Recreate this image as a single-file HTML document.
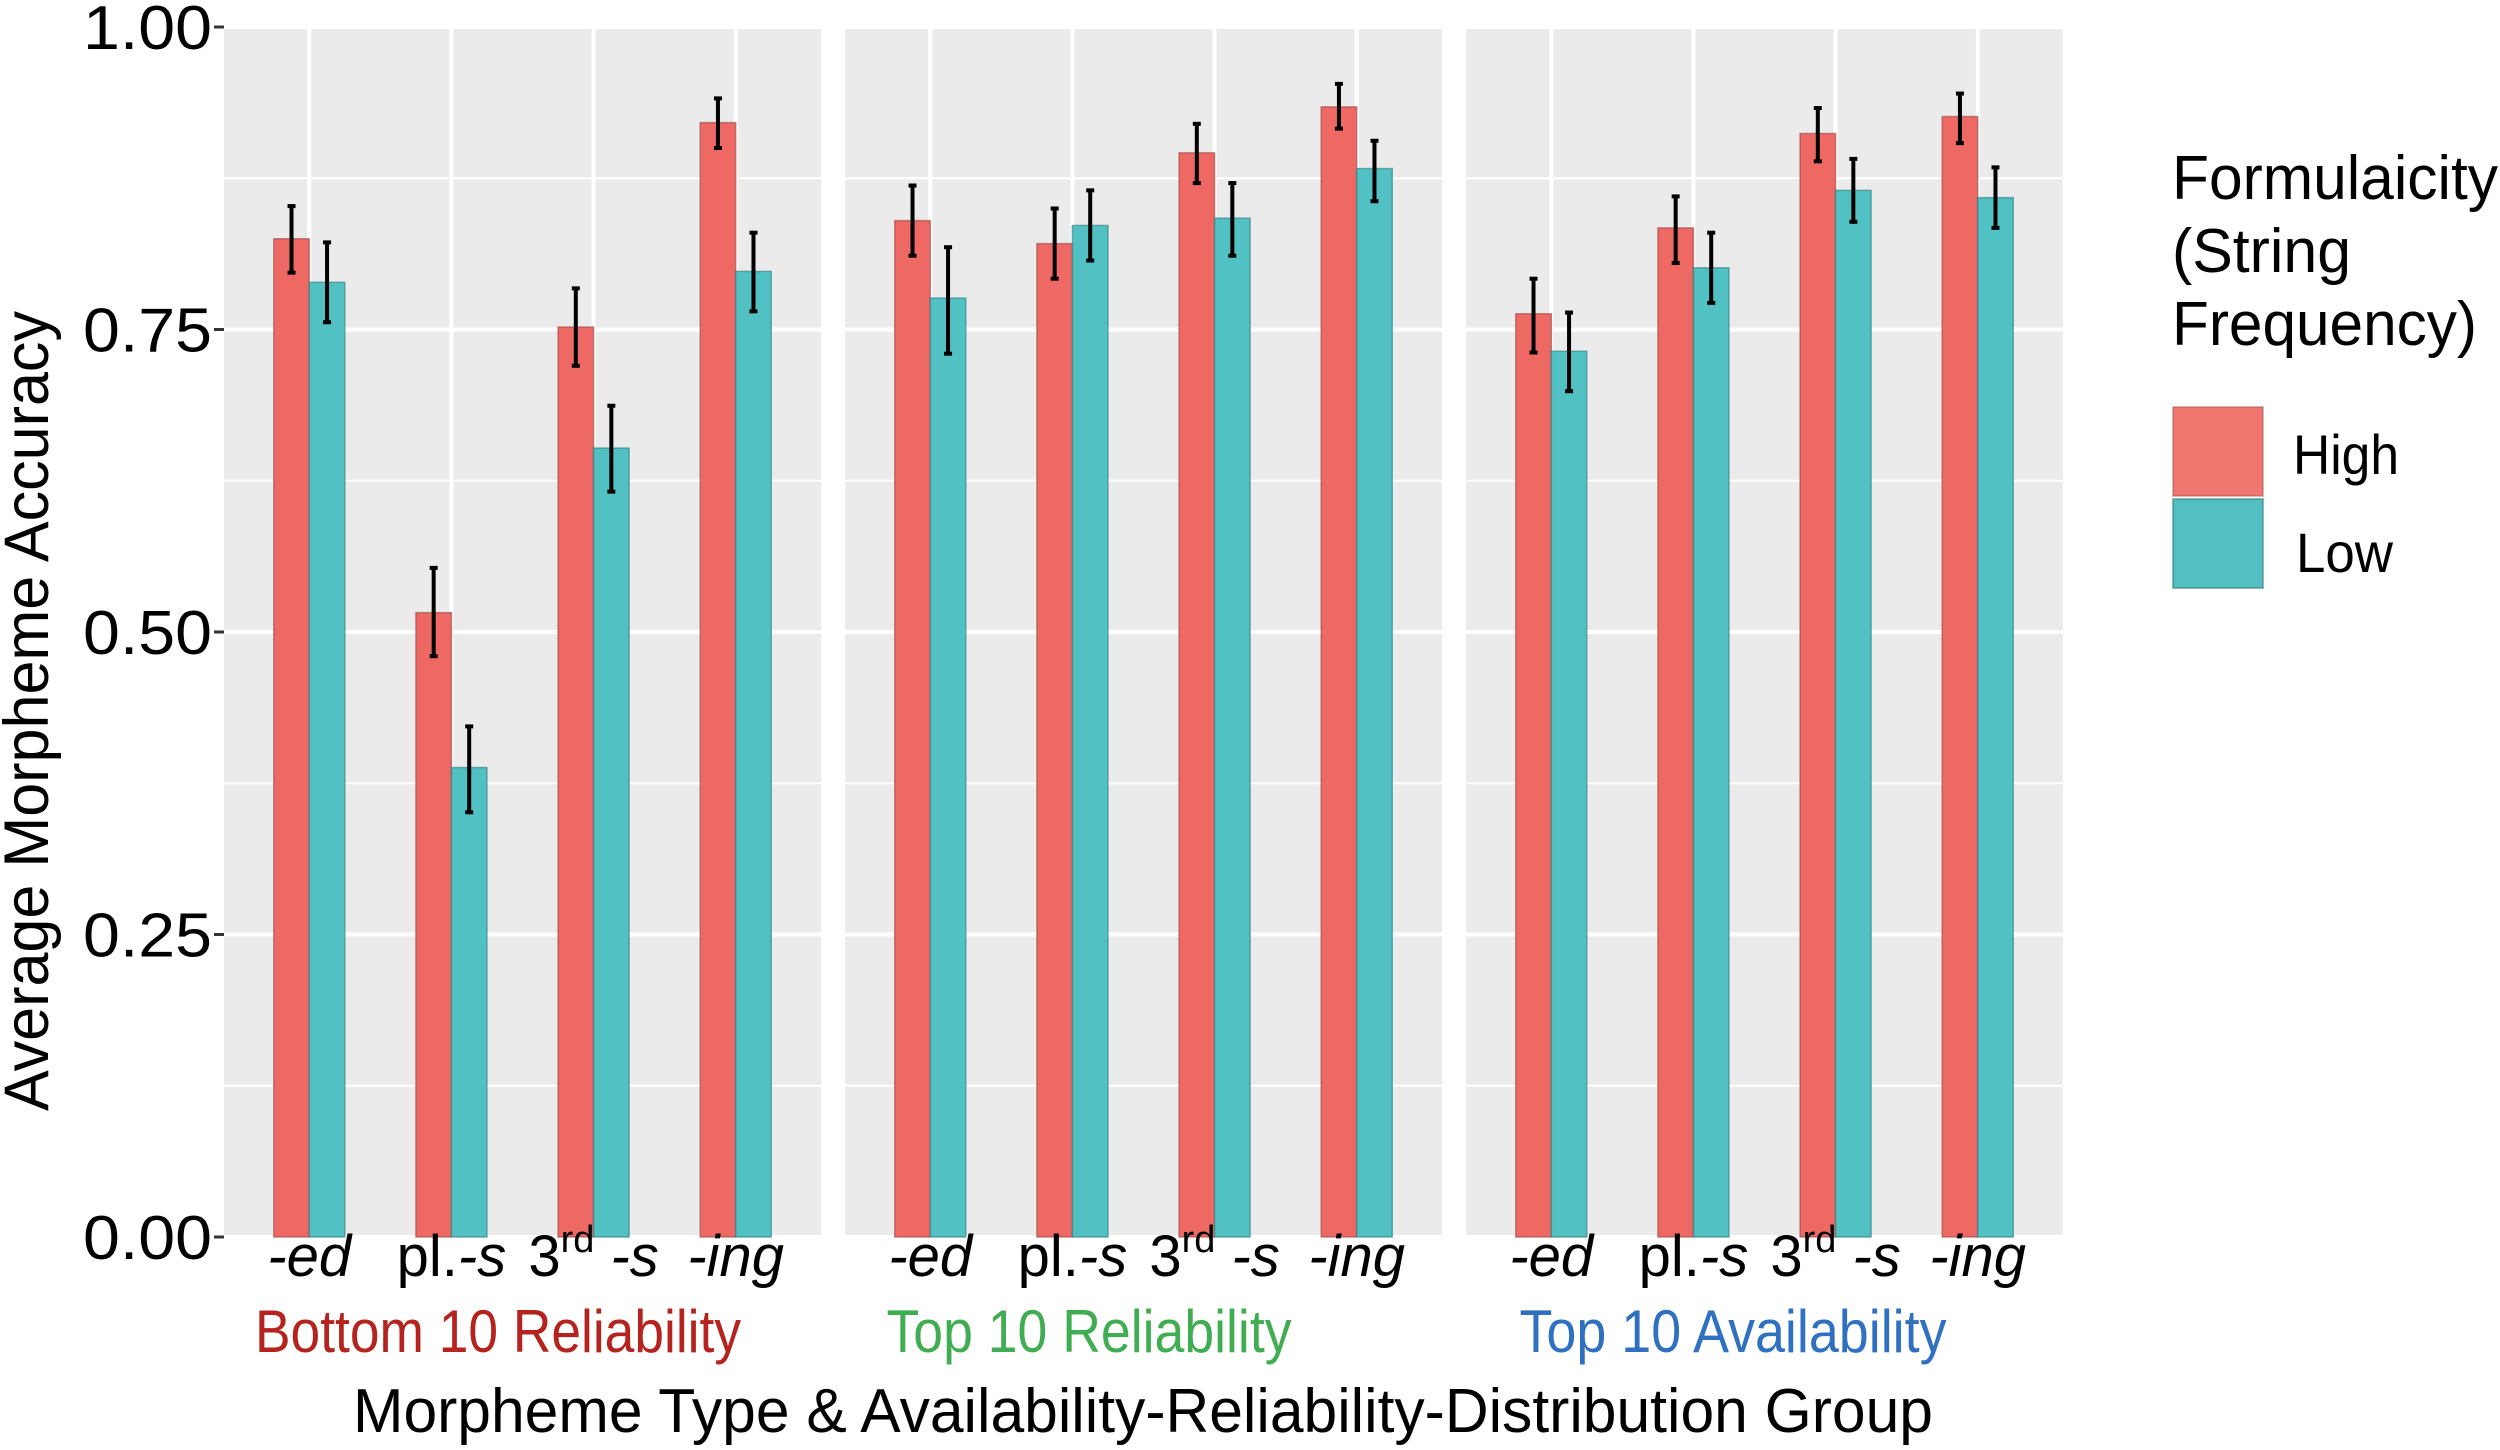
<!DOCTYPE html>
<html><head><meta charset="utf-8"><style>
html,body{margin:0;padding:0;background:#fff;}
svg{display:block;font-family:"Liberation Sans",sans-serif;}
</style></head><body>
<svg id="chart" width="2500" height="1450" viewBox="0 0 2500 1450" xmlns="http://www.w3.org/2000/svg">
<g id="panels"></g>
<g id="yaxis"></g>
<text transform="translate(48,711) rotate(-90)" text-anchor="middle" font-size="63" textLength="800" lengthAdjust="spacingAndGlyphs">Average Morpheme Accuracy</text>
<text x="1143" y="1432" text-anchor="middle" font-size="62" textLength="1580" lengthAdjust="spacingAndGlyphs">Morpheme Type &amp; Availability-Reliability-Distribution Group</text>
<g>
<text font-size="62">
<tspan x="2172" y="199" textLength="326" lengthAdjust="spacingAndGlyphs">Formulaicity</tspan><tspan x="2172" y="272" textLength="179" lengthAdjust="spacingAndGlyphs">(String</tspan><tspan x="2172" y="345" textLength="305" lengthAdjust="spacingAndGlyphs">Frequency)</tspan></text>
<rect x="2173" y="407" width="90" height="89" fill="#F07770" stroke="#a05050" stroke-opacity="0.4" stroke-width="2"/>
<rect x="2173" y="499" width="90" height="89" fill="#54BFC3" stroke="#307878" stroke-opacity="0.5" stroke-width="2"/>
<text x="2293" y="474" font-size="56" textLength="106" lengthAdjust="spacingAndGlyphs">High</text>
<text x="2296" y="572" font-size="56" textLength="97" lengthAdjust="spacingAndGlyphs">Low</text>
</g>
</svg>
<script>
const groups = ["Bottom 10 Reliability","Top 10 Reliability","Top 10 Availability"];
const groupColors = ["#B5231F","#41AD52","#2F70C0"];
const morphemes = ["-ed","pl.-s","3rd -s","-ing"];
const highVals = [[0.825,0.516,0.752,0.921],[0.840,0.821,0.896,0.934],[0.763,0.834,0.912,0.926]];
const highHi   = [[0.852,0.553,0.784,0.941],[0.869,0.850,0.920,0.953],[0.792,0.860,0.933,0.945]];
const highLo   = [[0.797,0.480,0.720,0.900],[0.811,0.792,0.871,0.916],[0.731,0.805,0.889,0.904]];
const lowVals  = [[0.789,0.388,0.652,0.798],[0.776,0.836,0.842,0.883],[0.732,0.801,0.865,0.859]];
const lowHi    = [[0.822,0.422,0.687,0.830],[0.818,0.865,0.871,0.906],[0.764,0.830,0.891,0.884]];
const lowLo    = [[0.756,0.351,0.616,0.765],[0.730,0.807,0.811,0.856],[0.699,0.772,0.839,0.834]];
const yTicks = [0,0.25,0.5,0.75,1];
const yTickLabels = ["0.00","0.25","0.50","0.75","1.00"];
const yMinor = [0.125,0.375,0.625,0.875];

const NS="http://www.w3.org/2000/svg";
const panelX=[224,845,1466], panelW=597, yTop=27, yBot=1237;
const groupLabelX=[498,1089,1733], groupLabelLen=[486,405,427];
const y=v=>yBot-v*(yBot-yTop);
const unit=panelW/4.2;
const xc=(p,i)=>panelX[p]+unit*(0.6+i);
function mk(tag,attrs,parent){const e=document.createElementNS(NS,tag);for(const k in attrs)e.setAttribute(k,attrs[k]);parent.appendChild(e);return e;}
const P=document.getElementById('panels');
groups.forEach((g,p)=>{
  const pg=mk('g',{},P);
  
  
  const bg=mk('rect',{x:panelX[p],y:yTop,width:panelW,height:yBot-yTop,fill:'#EBEBEB'},pg);
  
  
  yMinor.forEach(v=>{const l=mk('line',{x1:panelX[p],x2:panelX[p]+panelW,y1:y(v),y2:y(v),stroke:'#fff','stroke-width':2},pg);
    
    });
  yTicks.forEach(v=>{const l=mk('line',{x1:panelX[p],x2:panelX[p]+panelW,y1:y(v),y2:y(v),stroke:'#fff','stroke-width':4},pg);
    
    });
  morphemes.forEach((m,i)=>{const l=mk('line',{x1:xc(p,i),x2:xc(p,i),y1:yTop,y2:yBot,stroke:'#fff','stroke-width':4},pg);
    
    });
  morphemes.forEach((m,i)=>{
    const cx=xc(p,i), bw=unit*0.25;
    const series=[[highVals,highHi,highLo,'#EE6964','#9a4a46','high'],[lowVals,lowHi,lowLo,'#52C1C4','#2f7e80','low']];
    series.forEach((s,k)=>{
      const v=s[0][p][i], x0=cx-bw+k*bw;
      const r=mk('rect',{x:x0,y:y(v),width:bw,height:yBot-y(v),fill:s[3],stroke:s[4],'stroke-opacity':0.6,'stroke-width':1.5},pg);
      
      
      const ex=x0+bw/2, hi=y(s[1][p][i]), lo=y(s[2][p][i]);
      const eg=mk('g',{stroke:'#000','stroke-width':4},pg);
      
      
      mk('line',{x1:ex,x2:ex,y1:hi,y2:lo},eg);
      mk('line',{x1:ex-4,x2:ex+4,y1:hi,y2:hi},eg);
      mk('line',{x1:ex-4,x2:ex+4,y1:lo,y2:lo},eg);
    });
    const t=mk('text',{x:cx,y:1276,'text-anchor':'middle','font-size':58},pg);
    
    
    if(m==='3rd -s'){
      t.innerHTML='<tspan>3</tspan><tspan font-size="38" dy="-24">rd</tspan><tspan dy="24" font-style="italic"> -s</tspan>';
    }else if(m==='pl.-s'){
      t.innerHTML='<tspan>pl.</tspan><tspan font-style="italic">-s</tspan>';
    }else{t.setAttribute('font-style','italic');t.textContent=m;}
  });
  const gl=mk('text',{x:groupLabelX[p],y:1352,'text-anchor':'middle','font-size':60,fill:groupColors[p],textLength:groupLabelLen[p],lengthAdjust:'spacingAndGlyphs'},pg);
  
  
  gl.textContent=g;
});
const Y=document.getElementById('yaxis');
yTicks.forEach((v,i)=>{
  const l=mk('line',{x1:214,x2:224,y1:y(v),y2:y(v),stroke:'#333','stroke-width':3},Y);
  
  
  const t=mk('text',{x:212,y:y(v)+22,'text-anchor':'end','font-size':62,textLength:129,lengthAdjust:'spacingAndGlyphs'},Y);
  
  
  t.textContent=yTickLabels[i];
});
</script>
</body></html>
